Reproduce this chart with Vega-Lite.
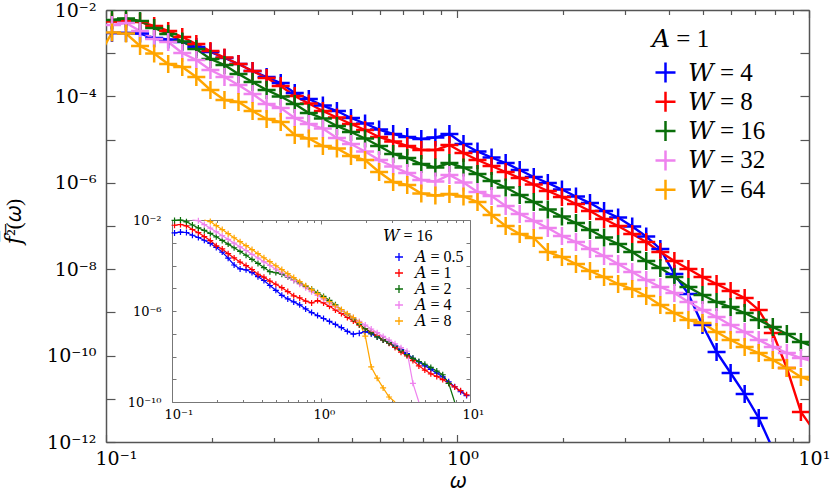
{
"$schema": "https://vega.github.io/schema/vega-lite/v6.json",
"autosize": {"type": "none"},
"padding": {"left": 106, "top": 10, "right": 21, "bottom": 51},
"width": 703,
"height": 432,
"background": "white",
"config": {"font": "Liberation Serif, DejaVu Serif, serif", "view": {"stroke": null}, "axis": {"grid": false, "labelFont": "DejaVu Serif", "titleFont": "Liberation Serif, DejaVu Serif, serif"}, "legend": {"labelFont": "Liberation Serif, DejaVu Serif, serif", "titleFont": "Liberation Serif, DejaVu Serif, serif"}},
"datasets": {
"main": [
{"W":4,"w":0.104,"f":2.94e-3},{"W":4,"w":0.114,"f":2.94e-3},{"W":4,"w":0.125,"f":2.86e-3},{"W":4,"w":0.1371,"f":2.25e-3},{"W":4,"w":0.1503,"f":2.07e-3},{"W":4,"w":0.1648,"f":1.82e-3},{"W":4,"w":0.1807,"f":1.39e-3},{"W":4,"w":0.1982,"f":1.07e-3},{"W":4,"w":0.2173,"f":7.74e-4},{"W":4,"w":0.2382,"f":5.62e-4},{"W":4,"w":0.2612,"f":3.87e-4},{"W":4,"w":0.2864,"f":2.81e-4},{"W":4,"w":0.3141,"f":2.04e-4},{"W":4,"w":0.3443,"f":1.20e-4},{"W":4,"w":0.3776,"f":8.71e-5},{"W":4,"w":0.414,"f":6.15e-5},{"W":4,"w":0.4539,"f":4.59e-5},{"W":4,"w":0.4977,"f":3.16e-5},{"W":4,"w":0.5458,"f":2.36e-5},{"W":4,"w":0.5984,"f":1.71e-5},{"W":4,"w":0.6561,"f":1.35e-5},{"W":4,"w":0.7194,"f":1.15e-5},{"W":4,"w":0.7889,"f":1.03e-5},{"W":4,"w":0.865,"f":1.12e-5},{"W":4,"w":0.9484,"f":1.35e-5},{"W":4,"w":1.04,"f":7.91e-6},{"W":4,"w":1.14,"f":5.31e-6},{"W":4,"w":1.25,"f":3.85e-6},{"W":4,"w":1.371,"f":2.87e-6},{"W":4,"w":1.503,"f":1.98e-6},{"W":4,"w":1.648,"f":1.36e-6},{"W":4,"w":1.807,"f":9.89e-7},{"W":4,"w":1.982,"f":7.00e-7},{"W":4,"w":2.173,"f":4.82e-7},{"W":4,"w":2.382,"f":3.40e-7},{"W":4,"w":2.612,"f":2.22e-7},{"W":4,"w":2.864,"f":1.57e-7},{"W":4,"w":3.141,"f":9.73e-8},{"W":4,"w":3.443,"f":5.71e-8},{"W":4,"w":3.776,"f":2.94e-8},{"W":4,"w":4.14,"f":7.74e-9},{"W":4,"w":4.539,"f":2.67e-9},{"W":4,"w":4.977,"f":5.11e-10},{"W":4,"w":5.458,"f":1.21e-10},{"W":4,"w":5.984,"f":3.95e-11},{"W":4,"w":6.561,"f":1.29e-11},{"W":4,"w":7.194,"f":3.60e-12},{"W":4,"w":7.889,"f":6.89e-13},
{"W":8,"w":0.104,"f":5.42e-3},{"W":8,"w":0.114,"f":5.56e-3},{"W":8,"w":0.125,"f":5.27e-3},{"W":8,"w":0.1371,"f":4.27e-3},{"W":8,"w":0.1503,"f":3.27e-3},{"W":8,"w":0.1648,"f":2.37e-3},{"W":8,"w":0.1807,"f":1.63e-3},{"W":8,"w":0.1982,"f":1.12e-3},{"W":8,"w":0.2173,"f":7.94e-4},{"W":8,"w":0.2382,"f":5.62e-4},{"W":8,"w":0.2612,"f":3.87e-4},{"W":8,"w":0.2864,"f":2.67e-4},{"W":8,"w":0.3141,"f":1.74e-4},{"W":8,"w":0.3443,"f":1.02e-4},{"W":8,"w":0.3776,"f":6.85e-5},{"W":8,"w":0.414,"f":4.59e-5},{"W":8,"w":0.4539,"f":3.25e-5},{"W":8,"w":0.4977,"f":2.30e-5},{"W":8,"w":0.5458,"f":1.67e-5},{"W":8,"w":0.5984,"f":1.15e-5},{"W":8,"w":0.6561,"f":9.04e-6},{"W":8,"w":0.7194,"f":7.11e-6},{"W":8,"w":0.7889,"f":5.74e-6},{"W":8,"w":0.865,"f":5.74e-6},{"W":8,"w":0.9484,"f":7.50e-6},{"W":8,"w":1.04,"f":4.90e-6},{"W":8,"w":1.14,"f":3.37e-6},{"W":8,"w":1.25,"f":2.45e-6},{"W":8,"w":1.371,"f":1.78e-6},{"W":8,"w":1.503,"f":1.29e-6},{"W":8,"w":1.648,"f":9.14e-7},{"W":8,"w":1.807,"f":6.46e-7},{"W":8,"w":1.982,"f":4.69e-7},{"W":8,"w":2.173,"f":3.23e-7},{"W":8,"w":2.382,"f":2.22e-7},{"W":8,"w":2.612,"f":1.45e-7},{"W":8,"w":2.864,"f":1.00e-7},{"W":8,"w":3.141,"f":6.53e-8},{"W":8,"w":3.443,"f":4.27e-8},{"W":8,"w":3.776,"f":2.50e-8},{"W":8,"w":4.14,"f":1.55e-8},{"W":8,"w":4.539,"f":1.01e-8},{"W":8,"w":4.977,"f":6.59e-9},{"W":8,"w":5.458,"f":4.54e-9},{"W":8,"w":5.984,"f":3.13e-9},{"W":8,"w":6.561,"f":2.15e-9},{"W":8,"w":7.194,"f":1.14e-9},{"W":8,"w":7.889,"f":3.33e-10},{"W":8,"w":8.65,"f":5.16e-11},{"W":8,"w":9.484,"f":4.94e-12},{"W":8,"w":10.4,"f":1.70e-12},
{"W":16,"w":0.104,"f":5.87e-3},{"W":16,"w":0.114,"f":6.35e-3},{"W":16,"w":0.125,"f":5.56e-3},{"W":16,"w":0.1371,"f":3.83e-3},{"W":16,"w":0.1503,"f":2.78e-3},{"W":16,"w":0.1648,"f":1.87e-3},{"W":16,"w":0.1807,"f":1.25e-3},{"W":16,"w":0.1982,"f":7.35e-4},{"W":16,"w":0.2173,"f":5.33e-4},{"W":16,"w":0.2382,"f":3.30e-4},{"W":16,"w":0.2612,"f":2.15e-4},{"W":16,"w":0.2864,"f":1.41e-4},{"W":16,"w":0.3141,"f":9.95e-5},{"W":16,"w":0.3443,"f":6.67e-5},{"W":16,"w":0.3776,"f":4.13e-5},{"W":16,"w":0.414,"f":3.08e-5},{"W":16,"w":0.4539,"f":2.07e-5},{"W":16,"w":0.4977,"f":1.50e-5},{"W":16,"w":0.5458,"f":1.06e-5},{"W":16,"w":0.5984,"f":7.11e-6},{"W":16,"w":0.6561,"f":4.65e-6},{"W":16,"w":0.7194,"f":3.75e-6},{"W":16,"w":0.7889,"f":2.72e-6},{"W":16,"w":0.865,"f":2.26e-6},{"W":16,"w":0.9484,"f":2.87e-6},{"W":16,"w":1.04,"f":2.26e-6},{"W":16,"w":1.14,"f":1.60e-6},{"W":16,"w":1.25,"f":1.10e-6},{"W":16,"w":1.371,"f":7.78e-7},{"W":16,"w":1.503,"f":5.22e-7},{"W":16,"w":1.648,"f":3.60e-7},{"W":16,"w":1.807,"f":2.41e-7},{"W":16,"w":1.982,"f":1.66e-7},{"W":16,"w":2.173,"f":1.17e-7},{"W":16,"w":2.382,"f":8.07e-8},{"W":16,"w":2.612,"f":5.42e-8},{"W":16,"w":2.864,"f":3.83e-8},{"W":16,"w":3.141,"f":2.50e-8},{"W":16,"w":3.443,"f":1.55e-8},{"W":16,"w":3.776,"f":1.07e-8},{"W":16,"w":4.14,"f":6.59e-9},{"W":16,"w":4.539,"f":3.87e-9},{"W":16,"w":4.977,"f":2.53e-9},{"W":16,"w":5.458,"f":1.74e-9},{"W":16,"w":5.984,"f":1.33e-9},{"W":16,"w":6.561,"f":9.68e-10},{"W":16,"w":7.194,"f":6.67e-10},{"W":16,"w":7.889,"f":4.59e-10},{"W":16,"w":8.65,"f":3.16e-10},{"W":16,"w":9.484,"f":2.07e-10},{"W":16,"w":10.4,"f":1.58e-10},
{"W":32,"w":0.104,"f":4.50e-3},{"W":32,"w":0.114,"f":5.00e-3},{"W":32,"w":0.125,"f":3.27e-3},{"W":32,"w":0.1371,"f":2.13e-3},{"W":32,"w":0.1503,"f":1.82e-3},{"W":32,"w":0.1648,"f":1.01e-3},{"W":32,"w":0.1807,"f":6.97e-4},{"W":32,"w":0.1982,"f":4.08e-4},{"W":32,"w":0.2173,"f":2.81e-4},{"W":32,"w":0.2382,"f":1.84e-4},{"W":32,"w":0.2612,"f":1.14e-4},{"W":32,"w":0.2864,"f":6.67e-5},{"W":32,"w":0.3141,"f":5.38e-5},{"W":32,"w":0.3443,"f":3.16e-5},{"W":32,"w":0.3776,"f":2.30e-5},{"W":32,"w":0.414,"f":1.81e-5},{"W":32,"w":0.4539,"f":1.09e-5},{"W":32,"w":0.4977,"f":7.91e-6},{"W":32,"w":0.5458,"f":5.31e-6},{"W":32,"w":0.5984,"f":3.37e-6},{"W":32,"w":0.6561,"f":2.38e-6},{"W":32,"w":0.7194,"f":1.69e-6},{"W":32,"w":0.7889,"f":1.16e-6},{"W":32,"w":0.865,"f":1.07e-6},{"W":32,"w":0.9484,"f":1.52e-6},{"W":32,"w":1.04,"f":1.02e-6},{"W":32,"w":1.14,"f":6.12e-7},{"W":32,"w":1.25,"f":4.94e-7},{"W":32,"w":1.371,"f":2.90e-7},{"W":32,"w":1.503,"f":1.90e-7},{"W":32,"w":1.648,"f":1.31e-7},{"W":32,"w":1.807,"f":8.99e-8},{"W":32,"w":1.982,"f":5.87e-8},{"W":32,"w":2.173,"f":4.27e-8},{"W":32,"w":2.382,"f":2.94e-8},{"W":32,"w":2.612,"f":2.02e-8},{"W":32,"w":2.864,"f":1.32e-8},{"W":32,"w":3.141,"f":8.61e-9},{"W":32,"w":3.443,"f":5.62e-9},{"W":32,"w":3.776,"f":3.87e-9},{"W":32,"w":4.14,"f":2.81e-9},{"W":32,"w":4.539,"f":1.74e-9},{"W":32,"w":4.977,"f":1.14e-9},{"W":32,"w":5.458,"f":7.83e-10},{"W":32,"w":5.984,"f":5.11e-10},{"W":32,"w":6.561,"f":3.52e-10},{"W":32,"w":7.194,"f":2.30e-10},{"W":32,"w":7.889,"f":1.58e-10},{"W":32,"w":8.65,"f":1.15e-10},{"W":32,"w":9.484,"f":8.79e-11},{"W":32,"w":10.4,"f":7.11e-11},
{"W":64,"w":0.0948,"f":7.74e-4},{"W":64,"w":0.104,"f":3.01e-3},{"W":64,"w":0.114,"f":2.86e-3},{"W":64,"w":0.125,"f":1.47e-3},{"W":64,"w":0.1371,"f":9.84e-4},{"W":64,"w":0.1503,"f":5.62e-4},{"W":64,"w":0.1648,"f":4.80e-4},{"W":64,"w":0.1807,"f":2.81e-4},{"W":64,"w":0.1982,"f":1.41e-4},{"W":64,"w":0.2173,"f":8.26e-5},{"W":64,"w":0.2382,"f":7.41e-5},{"W":64,"w":0.2612,"f":4.59e-5},{"W":64,"w":0.2864,"f":3.00e-5},{"W":64,"w":0.3141,"f":2.55e-5},{"W":64,"w":0.3443,"f":1.28e-5},{"W":64,"w":0.3776,"f":1.06e-5},{"W":64,"w":0.414,"f":7.11e-6},{"W":64,"w":0.4539,"f":6.22e-6},{"W":64,"w":0.4977,"f":4.17e-6},{"W":64,"w":0.5458,"f":3.37e-6},{"W":64,"w":0.5984,"f":1.78e-6},{"W":64,"w":0.6561,"f":1.04e-6},{"W":64,"w":0.7194,"f":8.89e-7},{"W":64,"w":0.7889,"f":5.65e-7},{"W":64,"w":0.865,"f":5.08e-7},{"W":64,"w":0.9484,"f":5.51e-7},{"W":64,"w":1.04,"f":4.82e-7},{"W":64,"w":1.14,"f":3.60e-7},{"W":64,"w":1.25,"f":1.80e-7},{"W":64,"w":1.371,"f":1.00e-7},{"W":64,"w":1.503,"f":6.53e-8},{"W":64,"w":1.648,"f":5.27e-8},{"W":64,"w":1.807,"f":2.50e-8},{"W":64,"w":1.982,"f":1.91e-8},{"W":64,"w":2.173,"f":1.32e-8},{"W":64,"w":2.382,"f":9.08e-9},{"W":64,"w":2.612,"f":6.59e-9},{"W":64,"w":2.864,"f":4.54e-9},{"W":64,"w":3.141,"f":3.48e-9},{"W":64,"w":3.443,"f":2.40e-9},{"W":64,"w":3.776,"f":1.48e-9},{"W":64,"w":4.14,"f":9.68e-10},{"W":64,"w":4.539,"f":6.67e-10},{"W":64,"w":4.977,"f":5.69e-10},{"W":64,"w":5.458,"f":3.52e-10},{"W":64,"w":5.984,"f":2.30e-10},{"W":64,"w":6.561,"f":1.58e-10},{"W":64,"w":7.194,"f":1.15e-10},{"W":64,"w":7.889,"f":7.91e-11},{"W":64,"w":8.65,"f":5.16e-11},{"W":64,"w":9.484,"f":3.20e-11},{"W":64,"w":10.4,"f":2.45e-11}
],
"inset": [
{"A":0.5,"w":0.104,"f":2.69e-3},{"A":0.5,"w":0.114,"f":2.95e-3},{"A":0.5,"w":0.125,"f":2.82e-3},{"A":0.5,"w":0.1371,"f":2.14e-3},{"A":0.5,"w":0.1503,"f":1.70e-3},{"A":0.5,"w":0.1648,"f":1.29e-3},{"A":0.5,"w":0.1807,"f":9.33e-4},{"A":0.5,"w":0.1982,"f":6.17e-4},{"A":0.5,"w":0.2173,"f":3.89e-4},{"A":0.5,"w":0.2382,"f":2.09e-4},{"A":0.5,"w":0.2612,"f":1.05e-4},{"A":0.5,"w":0.2864,"f":7.08e-5},{"A":0.5,"w":0.3141,"f":6.46e-5},{"A":0.5,"w":0.3443,"f":4.90e-5},{"A":0.5,"w":0.3776,"f":3.24e-5},{"A":0.5,"w":0.414,"f":2.19e-5},{"A":0.5,"w":0.4539,"f":1.32e-5},{"A":0.5,"w":0.4977,"f":8.13e-6},{"A":0.5,"w":0.5458,"f":4.90e-6},{"A":0.5,"w":0.5984,"f":3.39e-6},{"A":0.5,"w":0.6561,"f":2.51e-6},{"A":0.5,"w":0.7194,"f":1.86e-6},{"A":0.5,"w":0.7889,"f":1.23e-6},{"A":0.5,"w":0.865,"f":8.51e-7},{"A":0.5,"w":0.9484,"f":6.31e-7},{"A":0.5,"w":1.04,"f":4.68e-7},{"A":0.5,"w":1.14,"f":3.47e-7},{"A":0.5,"w":1.25,"f":2.57e-7},{"A":0.5,"w":1.371,"f":1.86e-7},{"A":0.5,"w":1.503,"f":1.26e-7},{"A":0.5,"w":1.648,"f":9.55e-8},{"A":0.5,"w":1.807,"f":1.05e-7},{"A":0.5,"w":1.982,"f":1.23e-7},{"A":0.5,"w":2.173,"f":9.77e-8},{"A":0.5,"w":2.382,"f":7.24e-8},{"A":0.5,"w":2.612,"f":5.37e-8},{"A":0.5,"w":2.864,"f":3.98e-8},{"A":0.5,"w":3.141,"f":2.88e-8},{"A":0.5,"w":3.443,"f":2.00e-8},{"A":0.5,"w":3.776,"f":1.35e-8},{"A":0.5,"w":4.14,"f":8.32e-9},{"A":0.5,"w":4.539,"f":5.75e-9},{"A":0.5,"w":4.977,"f":3.89e-9},{"A":0.5,"w":5.458,"f":2.69e-9},{"A":0.5,"w":5.984,"f":1.86e-9},{"A":0.5,"w":6.561,"f":1.26e-9},{"A":0.5,"w":7.194,"f":7.76e-10},{"A":0.5,"w":7.889,"f":4.68e-10},{"A":0.5,"w":8.65,"f":2.82e-10},{"A":0.5,"w":9.484,"f":1.91e-10},
{"A":1,"w":0.104,"f":5.87e-3},{"A":1,"w":0.114,"f":6.35e-3},{"A":1,"w":0.125,"f":5.56e-3},{"A":1,"w":0.1371,"f":3.83e-3},{"A":1,"w":0.1503,"f":2.78e-3},{"A":1,"w":0.1648,"f":1.87e-3},{"A":1,"w":0.1807,"f":1.25e-3},{"A":1,"w":0.1982,"f":7.35e-4},{"A":1,"w":0.2173,"f":5.33e-4},{"A":1,"w":0.2382,"f":3.30e-4},{"A":1,"w":0.2612,"f":2.15e-4},{"A":1,"w":0.2864,"f":1.41e-4},{"A":1,"w":0.3141,"f":9.95e-5},{"A":1,"w":0.3443,"f":6.67e-5},{"A":1,"w":0.3776,"f":4.13e-5},{"A":1,"w":0.414,"f":3.08e-5},{"A":1,"w":0.4539,"f":2.07e-5},{"A":1,"w":0.4977,"f":1.50e-5},{"A":1,"w":0.5458,"f":1.06e-5},{"A":1,"w":0.5984,"f":7.11e-6},{"A":1,"w":0.6561,"f":4.65e-6},{"A":1,"w":0.7194,"f":3.75e-6},{"A":1,"w":0.7889,"f":2.72e-6},{"A":1,"w":0.865,"f":2.26e-6},{"A":1,"w":0.9484,"f":2.87e-6},{"A":1,"w":1.04,"f":2.26e-6},{"A":1,"w":1.14,"f":1.60e-6},{"A":1,"w":1.25,"f":1.10e-6},{"A":1,"w":1.371,"f":7.78e-7},{"A":1,"w":1.503,"f":5.22e-7},{"A":1,"w":1.648,"f":3.60e-7},{"A":1,"w":1.807,"f":2.41e-7},{"A":1,"w":1.982,"f":1.66e-7},{"A":1,"w":2.173,"f":1.17e-7},{"A":1,"w":2.382,"f":8.07e-8},{"A":1,"w":2.612,"f":5.42e-8},{"A":1,"w":2.864,"f":3.83e-8},{"A":1,"w":3.141,"f":2.50e-8},{"A":1,"w":3.443,"f":1.55e-8},{"A":1,"w":3.776,"f":1.07e-8},{"A":1,"w":4.14,"f":6.59e-9},{"A":1,"w":4.539,"f":3.87e-9},{"A":1,"w":4.977,"f":2.53e-9},{"A":1,"w":5.458,"f":1.74e-9},{"A":1,"w":5.984,"f":1.33e-9},{"A":1,"w":6.561,"f":9.68e-10},{"A":1,"w":7.194,"f":6.67e-10},{"A":1,"w":7.889,"f":4.59e-10},{"A":1,"w":8.65,"f":3.16e-10},{"A":1,"w":9.484,"f":2.07e-10},
{"A":2,"w":0.104,"f":9.55e-3},{"A":2,"w":0.114,"f":1.00e-2},{"A":2,"w":0.125,"f":8.32e-3},{"A":2,"w":0.1371,"f":6.03e-3},{"A":2,"w":0.1503,"f":4.47e-3},{"A":2,"w":0.1648,"f":3.47e-3},{"A":2,"w":0.1807,"f":2.57e-3},{"A":2,"w":0.1982,"f":1.82e-3},{"A":2,"w":0.2173,"f":1.26e-3},{"A":2,"w":0.2382,"f":8.71e-4},{"A":2,"w":0.2612,"f":6.03e-4},{"A":2,"w":0.2864,"f":4.17e-4},{"A":2,"w":0.3141,"f":2.82e-4},{"A":2,"w":0.3443,"f":1.86e-4},{"A":2,"w":0.3776,"f":1.23e-4},{"A":2,"w":0.414,"f":8.13e-5},{"A":2,"w":0.4539,"f":5.37e-5},{"A":2,"w":0.4977,"f":4.90e-5},{"A":2,"w":0.5458,"f":4.17e-5},{"A":2,"w":0.5984,"f":3.09e-5},{"A":2,"w":0.6561,"f":2.24e-5},{"A":2,"w":0.7194,"f":1.66e-5},{"A":2,"w":0.7889,"f":1.23e-5},{"A":2,"w":0.865,"f":9.12e-6},{"A":2,"w":0.9484,"f":6.31e-6},{"A":2,"w":1.04,"f":4.37e-6},{"A":2,"w":1.14,"f":2.95e-6},{"A":2,"w":1.25,"f":1.86e-6},{"A":2,"w":1.371,"f":1.10e-6},{"A":2,"w":1.503,"f":7.24e-7},{"A":2,"w":1.648,"f":4.47e-7},{"A":2,"w":1.807,"f":2.57e-7},{"A":2,"w":1.982,"f":1.66e-7},{"A":2,"w":2.173,"f":1.10e-7},{"A":2,"w":2.382,"f":7.24e-8},{"A":2,"w":2.612,"f":5.37e-8},{"A":2,"w":2.864,"f":3.98e-8},{"A":2,"w":3.141,"f":2.82e-8},{"A":2,"w":3.443,"f":1.86e-8},{"A":2,"w":3.776,"f":1.20e-8},{"A":2,"w":4.14,"f":8.32e-9},{"A":2,"w":4.539,"f":6.03e-9},{"A":2,"w":4.977,"f":4.57e-9},{"A":2,"w":5.458,"f":3.31e-9},{"A":2,"w":5.984,"f":2.29e-9},{"A":2,"w":6.561,"f":1.58e-9},{"A":2,"w":7.194,"f":6.61e-10},{"A":2,"w":7.889,"f":5.0e-11},
{"A":4,"w":0.1371,"f":1.349e-2},{"A":4,"w":0.1503,"f":9.33e-3},{"A":4,"w":0.1648,"f":6.31e-3},{"A":4,"w":0.1807,"f":4.37e-3},{"A":4,"w":0.1982,"f":3.02e-3},{"A":4,"w":0.2173,"f":2.04e-3},{"A":4,"w":0.2382,"f":1.41e-3},{"A":4,"w":0.2612,"f":9.55e-4},{"A":4,"w":0.2864,"f":6.61e-4},{"A":4,"w":0.3141,"f":4.57e-4},{"A":4,"w":0.3443,"f":3.09e-4},{"A":4,"w":0.3776,"f":2.14e-4},{"A":4,"w":0.414,"f":1.45e-4},{"A":4,"w":0.4539,"f":1.00e-4},{"A":4,"w":0.4977,"f":6.92e-5},{"A":4,"w":0.5458,"f":4.68e-5},{"A":4,"w":0.5984,"f":3.24e-5},{"A":4,"w":0.6561,"f":2.19e-5},{"A":4,"w":0.7194,"f":1.51e-5},{"A":4,"w":0.7889,"f":1.05e-5},{"A":4,"w":0.865,"f":7.08e-6},{"A":4,"w":0.9484,"f":4.90e-6},{"A":4,"w":1.04,"f":3.31e-6},{"A":4,"w":1.14,"f":2.29e-6},{"A":4,"w":1.25,"f":1.58e-6},{"A":4,"w":1.371,"f":1.07e-6},{"A":4,"w":1.503,"f":7.41e-7},{"A":4,"w":1.648,"f":5.01e-7},{"A":4,"w":1.807,"f":3.47e-7},{"A":4,"w":1.982,"f":2.40e-7},{"A":4,"w":2.173,"f":1.62e-7},{"A":4,"w":2.382,"f":1.12e-7},{"A":4,"w":2.612,"f":7.59e-8},{"A":4,"w":2.864,"f":5.25e-8},{"A":4,"w":3.141,"f":3.63e-8},{"A":4,"w":3.443,"f":2.45e-8},{"A":4,"w":3.776,"f":1.70e-8},{"A":4,"w":4.14,"f":6.61e-10},{"A":4,"w":4.539,"f":3.98e-11},
{"A":8,"w":0.1648,"f":1.259e-2},{"A":8,"w":0.1807,"f":8.51e-3},{"A":8,"w":0.1982,"f":5.62e-3},{"A":8,"w":0.2173,"f":3.80e-3},{"A":8,"w":0.2382,"f":2.51e-3},{"A":8,"w":0.2612,"f":1.66e-3},{"A":8,"w":0.2864,"f":1.12e-3},{"A":8,"w":0.3141,"f":7.41e-4},{"A":8,"w":0.3443,"f":5.01e-4},{"A":8,"w":0.3776,"f":3.31e-4},{"A":8,"w":0.414,"f":2.19e-4},{"A":8,"w":0.4539,"f":1.48e-4},{"A":8,"w":0.4977,"f":9.77e-5},{"A":8,"w":0.5458,"f":6.61e-5},{"A":8,"w":0.5984,"f":4.37e-5},{"A":8,"w":0.6561,"f":2.95e-5},{"A":8,"w":0.7194,"f":1.95e-5},{"A":8,"w":0.7889,"f":1.29e-5},{"A":8,"w":0.865,"f":8.71e-6},{"A":8,"w":0.9484,"f":5.75e-6},{"A":8,"w":1.04,"f":3.89e-6},{"A":8,"w":1.14,"f":2.57e-6},{"A":8,"w":1.25,"f":1.70e-6},{"A":8,"w":1.371,"f":1.15e-6},{"A":8,"w":1.503,"f":7.59e-7},{"A":8,"w":1.648,"f":5.13e-7},{"A":8,"w":1.807,"f":3.16e-7},{"A":8,"w":1.982,"f":7.94e-8},{"A":8,"w":2.173,"f":3.47e-9},{"A":8,"w":2.382,"f":1.12e-9},{"A":8,"w":2.612,"f":4.17e-10},{"A":8,"w":2.864,"f":1.66e-10},{"A":8,"w":3.141,"f":5.50e-11}
]
},
"layer": [
{
"data": {"name": "main"},
"layer": [
{
"mark": {"type": "line", "strokeWidth": 2.4, "clip": true},
"encoding": {
"x": {"field": "w", "type": "quantitative", "scale": {"type": "log", "domain": [0.1, 10], "nice": false},
"axis": {"orient": "bottom", "values": [0.1,0.2,0.3,0.4,0.5,0.6,0.7,0.8,0.9,1,2,3,4,5,6,7,8,9,10],
"labelExpr": "datum.value == 0.1 ? '10⁻¹' : datum.value == 1 ? '10⁰' : datum.value == 10 ? '10¹' : ''",
"tickSize": {"condition": {"test": "datum.value == 0.1 || datum.value == 1 || datum.value == 10", "value": -7.5}, "value": -4.5},
"tickColor": "#555555", "tickWidth": 1.2, "domainColor": "#555555", "domainWidth": 1.5,
"labelFontSize": 19, "labelColor": "black", "labelAlign": "left", "labelOffset": -11, "labelBaseline": "top", "labelPadding": 15,
"labelFlush": false, "labelOverlap": false, "labelBound": false,
"title": "\ud835\udf14", "titleFontSize": 22, "titleFontWeight": "normal", "titleColor": "black", "titleBaseline": "alphabetic", "titleY": 45}},
"y": {"field": "f", "type": "quantitative", "scale": {"type": "log", "domain": [1e-12, 1e-2], "nice": false},
"axis": {"orient": "left", "values": [1e-12,1e-11,1e-10,1e-9,1e-8,1e-7,1e-6,1e-5,1e-4,1e-3,1e-2],
"labelExpr": "datum.value < 3e-12 ? '10⁻¹²' : datum.value < 3e-11 ? '' : datum.value < 3e-10 ? '10⁻¹⁰' : datum.value < 3e-9 ? '' : datum.value < 3e-8 ? '10⁻⁸' : datum.value < 3e-7 ? '' : datum.value < 3e-6 ? '10⁻⁶' : datum.value < 3e-5 ? '' : datum.value < 3e-4 ? '10⁻⁴' : datum.value < 3e-3 ? '' : '10⁻²'",
"tickSize": -9, "tickColor": "#555555", "tickWidth": 1.2, "domainColor": "#555555", "domainWidth": 1.5,
"labelFontSize": 19, "labelColor": "black", "labelAlign": "right", "labelBaseline": "middle", "labelPadding": 19,
"labelFlush": false, "labelOverlap": false, "labelBound": false,
"title": "\ud835\udc53\u0305\u00b2\u0305(\ud835\udf14)", "titleFontSize": 22, "titleFontWeight": "normal", "titleColor": "black",
"titleAngle": -90, "titleBaseline": "alphabetic", "titleAlign": "center", "titleX": -86, "titleY": 211}},
"color": {"field": "W", "type": "nominal",
"scale": {"domain": [4, 8, 16, 32, 64], "range": ["#0000ff", "#ff0000", "#0a6e0a", "#ee82ee", "#ffa500"]},
"legend": {"orient": "none", "legendX": 546, "legendY": 17, "padding": 0,
"title": "\ud835\udc34 = 1", "titleFontSize": 25, "titleFontWeight": "normal", "titleColor": "black", "titlePadding": 8,
"labelFontSize": 25, "labelColor": "black", "labelExpr": "'\ud835\udc4a = ' + datum.label",
"symbolType": "M-1,0L1,0M0,-1L0,1", "symbolSize": 400, "symbolStrokeWidth": 2.5, "symbolOpacity": 1, "symbolOffset": 1,
"labelOffset": 10, "rowPadding": -1.7}}
}
},
{
"transform": [{"filter": "datum.w > 0.1 && datum.w < 10 && datum.f > 1e-12"}],
"mark": {"type": "point", "shape": "M-1,0L1,0M0,-1L0,1", "filled": false, "size": 324, "strokeWidth": 2.5, "opacity": 1, "clip": true},
"encoding": {
"x": {"field": "w", "type": "quantitative", "scale": {"type": "log", "domain": [0.1, 10], "nice": false},
"axis": {"orient": "top", "values": [0.1,0.2,0.3,0.4,0.5,0.6,0.7,0.8,0.9,1,2,3,4,5,6,7,8,9,10], "labels": false,
"tickSize": {"condition": {"test": "datum.value == 0.1 || datum.value == 1 || datum.value == 10", "value": -7.5}, "value": -4.5},
"tickColor": "#555555", "tickWidth": 1.2, "domainColor": "#555555", "domainWidth": 1.5, "title": null}},
"y": {"field": "f", "type": "quantitative", "scale": {"type": "log", "domain": [1e-12, 1e-2], "nice": false},
"axis": {"orient": "right", "values": [1e-12,1e-11,1e-10,1e-9,1e-8,1e-7,1e-6,1e-5,1e-4,1e-3,1e-2], "labels": false,
"tickSize": -9, "tickColor": "#555555", "tickWidth": 1.2, "domainColor": "#555555", "domainWidth": 1.5, "title": null}},
"color": {"field": "W", "type": "nominal",
"scale": {"domain": [4, 8, 16, 32, 64], "range": ["#0000ff", "#ff0000", "#0a6e0a", "#ee82ee", "#ffa500"]},
"legend": {"orient": "none", "legendX": 546, "legendY": 17, "padding": 0,
"title": "\ud835\udc34 = 1", "titleFontSize": 25, "titleFontWeight": "normal", "titleColor": "black", "titlePadding": 8,
"labelFontSize": 25, "labelColor": "black", "labelExpr": "'\ud835\udc4a = ' + datum.label",
"symbolType": "M-1,0L1,0M0,-1L0,1", "symbolSize": 400, "symbolStrokeWidth": 2.5, "symbolOpacity": 1, "symbolOffset": 1,
"labelOffset": 10, "rowPadding": -1.7}}
}
}
],
"resolve": {"axis": {"x": "independent", "y": "independent"}}
},
{
"data": {"name": "inset"},
"layer": [
{
"mark": {"type": "line", "strokeWidth": 1.2},
"encoding": {
"x": {"field": "w", "type": "quantitative", "scale": {"type": "log", "domain": [0.1, 10], "range": [66, 364], "nice": false},
"axis": {"orient": "bottom", "offset": -40, "values": [0.1,0.2,0.3,0.4,0.5,0.6,0.7,0.8,0.9,1,2,3,4,5,6,7,8,9,10],
"labelExpr": "datum.value == 0.1 ? '10⁻¹' : datum.value == 1 ? '10⁰' : datum.value == 10 ? '10¹' : ''",
"tickSize": {"condition": {"test": "datum.value == 0.1 || datum.value == 1 || datum.value == 10", "value": -4}, "value": -2.5},
"tickColor": "#777777", "tickWidth": 1, "domainColor": "#777777", "domainWidth": 1,
"labelFontSize": 13, "labelColor": "black", "labelAlign": "left", "labelOffset": -8, "labelBaseline": "top", "labelPadding": 10,
"labelFlush": false, "labelOverlap": false, "labelBound": false, "title": null}},
"y": {"field": "f", "type": "quantitative", "scale": {"type": "log", "domain": [1e-10, 1e-2], "range": [392, 210], "clamp": true, "nice": false},
"axis": {"orient": "left", "offset": -66, "values": [1e-10,1e-9,1e-8,1e-7,1e-6,1e-5,1e-4,1e-3,1e-2],
"labelExpr": "datum.value < 3e-10 ? '10⁻¹⁰' : datum.value < 3e-7 ? '' : datum.value < 3e-6 ? '10⁻⁶' : datum.value < 3e-3 ? '' : '10⁻²'",
"tickSize": -4, "tickColor": "#777777", "tickWidth": 1, "domainColor": "#777777", "domainWidth": 1,
"labelFontSize": 13, "labelColor": "black", "labelAlign": "right", "labelBaseline": "middle", "labelPadding": 15,
"labelFlush": false, "labelOverlap": false, "labelBound": false, "title": null}},
"color": {"field": "A", "type": "nominal",
"scale": {"domain": [0.5, 1, 2, 4, 8], "range": ["#0000ff", "#ff0000", "#0a6e0a", "#ee82ee", "#ffa500"]},
"legend": {"orient": "none", "legendX": 277, "legendY": 218, "padding": 0,
"title": "\ud835\udc4a = 16", "titleFontSize": 16, "titleFontWeight": "normal", "titleColor": "black", "titlePadding": 5,
"labelFontSize": 16, "labelColor": "black", "labelExpr": "'\ud835\udc34 = ' + datum.label",
"symbolType": "M-1,0L1,0M0,-1L0,1", "symbolSize": 64, "symbolStrokeWidth": 1.3, "symbolOpacity": 1, "symbolOffset": 8,
"labelOffset": 8, "rowPadding": 0}}
}
},
{
"transform": [{"filter": "datum.f <= 0.0100001 && datum.f >= 1e-10"}],
"mark": {"type": "point", "shape": "M-1,0L1,0M0,-1L0,1", "filled": false, "size": 36, "strokeWidth": 1.2, "opacity": 1},
"encoding": {
"x": {"field": "w", "type": "quantitative", "scale": {"type": "log", "domain": [0.1, 10], "range": [66, 364], "nice": false},
"axis": {"orient": "top", "offset": -210, "values": [0.1,0.2,0.3,0.4,0.5,0.6,0.7,0.8,0.9,1,2,3,4,5,6,7,8,9,10], "labels": false,
"tickSize": {"condition": {"test": "datum.value == 0.1 || datum.value == 1 || datum.value == 10", "value": -4}, "value": -2.5},
"tickColor": "#777777", "tickWidth": 1, "domainColor": "#777777", "domainWidth": 1, "title": null}},
"y": {"field": "f", "type": "quantitative", "scale": {"type": "log", "domain": [1e-10, 1e-2], "range": [392, 210], "clamp": true, "nice": false},
"axis": {"orient": "right", "offset": -339, "values": [1e-10,1e-9,1e-8,1e-7,1e-6,1e-5,1e-4,1e-3,1e-2], "labels": false,
"tickSize": -4, "tickColor": "#777777", "tickWidth": 1, "domainColor": "#777777", "domainWidth": 1, "title": null}},
"color": {"field": "A", "type": "nominal",
"scale": {"domain": [0.5, 1, 2, 4, 8], "range": ["#0000ff", "#ff0000", "#0a6e0a", "#ee82ee", "#ffa500"]},
"legend": {"orient": "none", "legendX": 277, "legendY": 218, "padding": 0,
"title": "\ud835\udc4a = 16", "titleFontSize": 16, "titleFontWeight": "normal", "titleColor": "black", "titlePadding": 5,
"labelFontSize": 16, "labelColor": "black", "labelExpr": "'\ud835\udc34 = ' + datum.label",
"symbolType": "M-1,0L1,0M0,-1L0,1", "symbolSize": 64, "symbolStrokeWidth": 1.3, "symbolOpacity": 1, "symbolOffset": 8,
"labelOffset": 8, "rowPadding": 0}}
}
}
],
"resolve": {"axis": {"x": "independent", "y": "independent"}}
}
],
"resolve": {"scale": {"x": "independent", "y": "independent", "color": "independent"}, "axis": {"x": "independent", "y": "independent"}, "legend": {"color": "independent"}}
}
